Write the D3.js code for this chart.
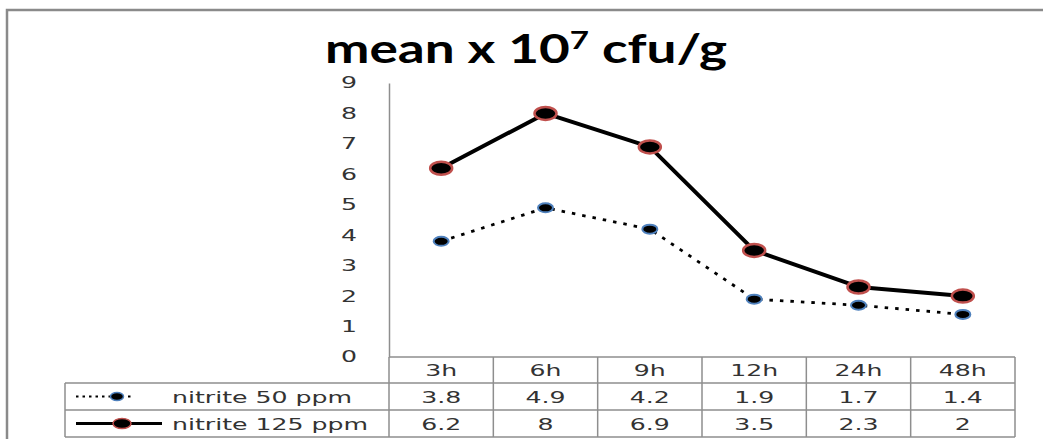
<!DOCTYPE html>
<html>
<head>
<meta charset="utf-8">
<script src="https://cdn.jsdelivr.net/npm/d3@7/dist/d3.min.js"></script>
<style>
  html, body { margin: 0; padding: 0; background: #fff; }
  svg { display: block; }
</style>
</head>
<body>
<svg id="chart" width="1043" height="439"></svg>
<script>
// ---- data ----
const categories = ["3h", "6h", "9h", "12h", "24h", "48h"];
const seriesNames = ["nitrite 50 ppm", "nitrite 125 ppm"];
const nitrite50 = [3.8, 4.9, 4.2, 1.9, 1.7, 1.4];
const nitrite125 = [6.2, 8, 6.9, 3.5, 2.3, 2];
const yTicks = [0, 1, 2, 3, 4, 5, 6, 7, 8, 9];
const tableLabels50 = ["3.8", "4.9", "4.2", "1.9", "1.7", "1.4"];
const tableLabels125 = ["6.2", "8", "6.9", "3.5", "2.3", "2"];

const svg = d3.select("#chart");
const SX = 1.68;             // horizontal stretch of the original picture
const FONT = "DejaVu Sans, Verdana, sans-serif";
const TXT = "#333";
const GRID = "#8e8e8e";

// chart border (top + left)
svg.append("path")
  .attr("d", "M7,439 V10 H1043")
  .attr("fill", "none").attr("stroke", "#8a8a8a").attr("stroke-width", 2.5);

// title
const title = svg.append("text")
  .attr("x", 526).attr("y", 63)
  .attr("text-anchor", "middle")
  .attr("font-family", "Lato, Liberation Sans, Arial, sans-serif")
  .attr("font-weight", "bold")
  .attr("font-size", 40)
  .attr("fill", "#000")
  .attr("textLength", 402)
  .attr("lengthAdjust", "spacingAndGlyphs");
title.append("tspan").text("mean x 10");
title.append("tspan").attr("font-size", 25).attr("dy", -14).text("7");
title.append("tspan").attr("dy", 14).text(" cfu/g");

// scales
const x = d3.scaleBand().domain(categories).range([389, 1015]);
const y = d3.scaleLinear().domain([0, 9]).range([357, 83]);

function stext(g, px, py, str, anchor) {
  return g.append("text")
    .attr("transform", `translate(${px},${py}) scale(${SX},1)`)
    .attr("text-anchor", anchor || "middle")
    .attr("dy", "0.36em")
    .attr("font-family", FONT)
    .attr("font-size", 15)
    .attr("fill", TXT)
    .text(str);
}

// y axis
const yAxis = svg.append("g")
  .attr("transform", "translate(389,0)")
  .call(d3.axisLeft(y).tickValues(yTicks).tickSize(0).tickSizeOuter(0).tickPadding(0).tickFormat(d3.format("d")));
yAxis.select(".domain").attr("stroke", GRID).attr("stroke-width", 1.5);
yAxis.selectAll(".tick text").remove();
yTicks.forEach(t => stext(svg, 357, y(t), String(t), "end"));

// table
const tbl = svg.append("g").attr("stroke", GRID).attr("stroke-width", 1.5).attr("fill", "none");
const rowY = [357, 383, 410, 437];
const left = 65, right = x.range()[1];
tbl.append("line").attr("x1", 389).attr("x2", right).attr("y1", rowY[0]).attr("y2", rowY[0]);
[1, 2, 3].forEach(i => tbl.append("line").attr("x1", left).attr("x2", right).attr("y1", rowY[i]).attr("y2", rowY[i]));
tbl.append("line").attr("x1", left).attr("x2", left).attr("y1", rowY[1]).attr("y2", rowY[3]);
tbl.append("line").attr("x1", 389).attr("x2", 389).attr("y1", rowY[0]).attr("y2", rowY[3]);
categories.forEach(c => {
  const xr = x(c) + x.bandwidth();
  tbl.append("line").attr("x1", xr).attr("x2", xr).attr("y1", rowY[0]).attr("y2", rowY[3]);
});

categories.forEach((c, i) => {
  const cx = x(c) + x.bandwidth() / 2;
  stext(svg, cx, (rowY[0] + rowY[1]) / 2 + 1, c);
  stext(svg, cx, (rowY[1] + rowY[2]) / 2 + 1, tableLabels50[i]);
  stext(svg, cx, (rowY[2] + rowY[3]) / 2 + 1, tableLabels125[i]);
});

// series styles
const styles = [
  { data: nitrite50, dash: "3.5,7", width: 2.8, rx: 7.5, ry: 4.5, mstroke: "#4f81bd", msw: 2, legX2: 134, legM: 117, legDash: "2.5,4" },
  { data: nitrite125, dash: null, width: 4, rx: 11, ry: 6.5, mstroke: "#c0504d", msw: 2.5, legX2: 162, legM: 122, legDash: null }
];

const line = d3.line()
  .x((d, i) => x(categories[i]) + x.bandwidth() / 2)
  .y(d => y(d));

styles.forEach((s, k) => {
  svg.append("path")
    .datum(s.data)
    .attr("d", line)
    .attr("fill", "none")
    .attr("stroke", "#000")
    .attr("stroke-width", s.width)
    .attr("stroke-dasharray", s.dash)
    .attr("stroke-linejoin", "round");
  svg.append("g").selectAll("ellipse").data(s.data).join("ellipse")
    .attr("cx", (d, i) => x(categories[i]) + x.bandwidth() / 2)
    .attr("cy", d => y(d))
    .attr("rx", s.rx).attr("ry", s.ry)
    .attr("fill", "#000")
    .attr("stroke", s.mstroke).attr("stroke-width", s.msw);

  // legend key in table
  const ly = (rowY[k + 1] + rowY[k + 2]) / 2;
  svg.append("line")
    .attr("x1", 76).attr("x2", s.legX2).attr("y1", ly).attr("y2", ly)
    .attr("stroke", "#000").attr("stroke-width", k ? 3 : 2.2)
    .attr("stroke-dasharray", s.legDash);
  svg.append("ellipse")
    .attr("cx", s.legM).attr("cy", ly)
    .attr("rx", k ? 9 : 6.5).attr("ry", k ? 5 : 4)
    .attr("fill", "#000").attr("stroke", s.mstroke).attr("stroke-width", 1.5);
  stext(svg, 172, ly + 1, seriesNames[k], "start");
});
</script>
</body>
</html>
